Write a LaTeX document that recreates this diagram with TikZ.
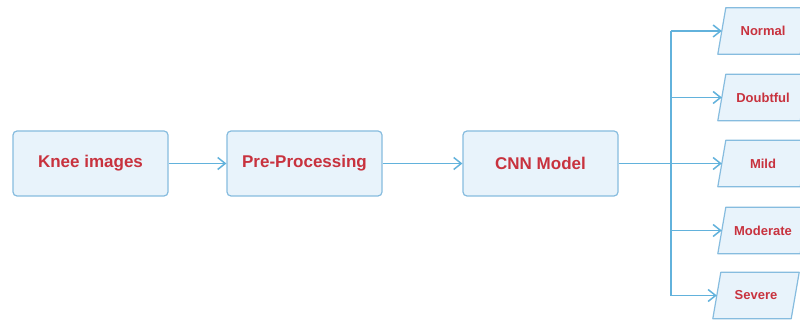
\documentclass[tikz,border=0pt]{standalone}
\usepackage{fontspec}
\setmainfont{Liberation Sans}
\usetikzlibrary{arrows.meta}

\definecolor{boxfill}{HTML}{E8F3FB}
\definecolor{boxline}{HTML}{86BCDF}
\definecolor{labelred}{HTML}{C8323E}
\definecolor{wire}{HTML}{62B2DC}

\tikzset{
  stagebox/.style={draw=boxline, fill=boxfill, line width=1.2pt, rounded corners=4pt,
    minimum width=155pt, minimum height=65pt, inner sep=0pt,
    text=labelred, font=\fontsize{17}{20}\selectfont\bfseries},
  gradebox/.style={inner sep=0pt, minimum height=46pt,
    text=labelred, font=\fontsize{13}{15}\selectfont\bfseries},
  gradeshape/.style={draw=boxline, fill=boxfill, line width=1.2pt, line join=round},
  wireline/.style={draw=wire, line width=1.5pt},
  wirearrow/.style={wireline, -{Straight Barb[length=7.5pt, width=12pt]}},
}

\begin{document}
\begin{tikzpicture}[x=1pt, y=-1pt]
  \useasboundingbox (0,0) rectangle (800,320);
  \clip (0,0) rectangle (800,320);
  \fill[white] (0,0) rectangle (800,320);

  % pipeline stages
  \node[stagebox] (knee) at (90.5,163.5) {Knee images};
  \node[stagebox] (pre)  at (304.5,163.5) {Pre-Processing};
  \node[stagebox] (cnn)  at (540.5,163.5) {CNN Model};

  % placeholders fixing the extent of each grade parallelogram
  \path node[gradebox, minimum width=82pt] (normal)   at (763,31)    {}
        node[gradebox, minimum width=82pt] (doubtful) at (763,97.5)  {}
        node[gradebox, minimum width=82pt] (mild)     at (763,163.5) {}
        node[gradebox, minimum width=82pt] (moderate) at (763,230.5) {}
        node[gradebox, minimum width=78pt] (severe)   at (756,295.5) {};

  % slanted outlines
  \foreach \g in {normal,doubtful,mild,moderate,severe}{
    \path[gradeshape]
      ([xshift=4pt]\g.north west) -- ([xshift=4pt]\g.north east) --
      ([xshift=-4pt]\g.south east) -- ([xshift=-4pt]\g.south west) -- cycle;
  }

  % grade labels
  \node[gradebox] at (normal)   {Normal};
  \node[gradebox] at (doubtful) {Doubtful};
  \node[gradebox] at (mild)     {Mild};
  \node[gradebox] at (moderate) {Moderate};
  \node[gradebox] at (severe)   {Severe};

  % connectors
  \draw[wirearrow] (knee.east) -- (pre.west);
  \draw[wirearrow] (pre.east) -- (cnn.west);
  \coordinate (split) at (671,163.5);
  \draw[wireline] (cnn.east) -- (split);
  \draw[wireline] (split |- normal.west) -- (split |- severe.west);
  \foreach \g in {normal,doubtful,mild,moderate,severe}{
    \draw[wirearrow] (split |- \g.west) -- (\g.west);
  }
\end{tikzpicture}
\end{document}
